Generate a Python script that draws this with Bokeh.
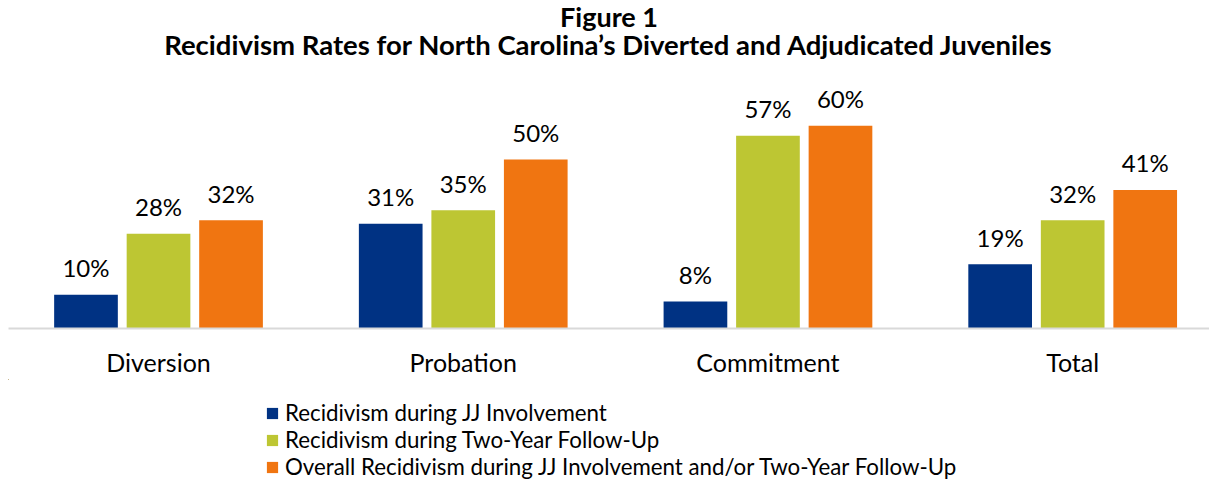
from bokeh.plotting import figure
from bokeh.layouts import column
from bokeh.models import Range1d, Legend, LegendItem, Title, ColumnDataSource, FixedTicker
from bokeh.core.properties import value
from bokeh.embed import file_html
from bokeh.resources import INLINE

categories = ["Diversion", "Probation", "Commitment", "Total"]
during_jj = [10, 31, 8, 19]
two_year = [28, 35, 57, 32]
overall = [32, 50, 60, 41]
series_names = [
    "Recidivism during JJ Involvement",
    "Recidivism during Two-Year Follow-Up",
    "Overall Recidivism during JJ Involvement and/or Two-Year Follow-Up",
]
colors = ["#003283", "#BDC633", "#F07511"]

FONT = "Lato"

xc = [i + 0.5 for i in range(len(categories))]
off = 0.238
w = 0.209
series = [during_jj, two_year, overall]

FRAME_H = 273
p = figure(frame_width=1201, frame_height=FRAME_H,
           x_range=Range1d(0.0077, 3.949),
           y_range=Range1d(0, FRAME_H / 3.38), output_backend="svg", toolbar_location=None,
           y_axis_location=None, min_border_left=8, min_border_right=0,
           min_border_top=0, min_border_bottom=46)
p.outline_line_color = None
p.xgrid.grid_line_color = None
p.ygrid.grid_line_color = None

p.add_layout(Title(text="Recidivism Rates for North Carolina\u2019s Diverted and Adjudicated Juveniles",
                   align="center", text_font=FONT, text_font_size="27.5px", text_font_style="bold",
                   text_color="#000000", standoff=-10, text_line_height=0.9), "above")
p.add_layout(Title(text="Figure 1", align="center", text_font=FONT, text_font_size="27px",
                   text_font_style="bold", text_color="#000000", standoff=-5, text_line_height=0.9), "above")

for i, (vals, color) in enumerate(zip(series, colors)):
    d = (i - 1) * off
    src = ColumnDataSource(dict(x=[c + d for c in xc], top=vals, lab=[f"{v}%" for v in vals]))
    p.vbar(x="x", top="top", width=w, source=src, fill_color=color, line_color=None)
    p.text(x="x", y="top", text="lab", source=src,
           text_align="center", text_baseline="alphabetic", y_offset=-27,
           text_font=value(FONT), text_font_size="24px", text_color="#000000")

p.xaxis.ticker = FixedTicker(ticks=xc)
p.xaxis.major_label_overrides = {c: lab for c, lab in zip(xc, categories)}
p.xaxis.axis_line_color = "#d9d9d9"
p.xaxis.axis_line_width = 2
p.xaxis.major_tick_line_color = None
p.xaxis.minor_tick_line_color = None
p.xaxis.major_label_standoff = 12
p.xaxis.major_label_text_font = FONT
p.xaxis.major_label_text_font_size = "25px"
p.xaxis.major_label_text_color = "#000000"

# legend figure (its bars lie far outside the visible ranges; only the legend shows)
lg = figure(width=1209, height=103, x_range=Range1d(100, 101), y_range=Range1d(-20, -10),
            output_backend="svg", toolbar_location=None, x_axis_location=None,
            y_axis_location=None, min_border=0)
lg.outline_line_color = None
lg.xgrid.grid_line_color = None
lg.ygrid.grid_line_color = None
items = []
for i, (vals, name, color) in enumerate(zip(series, series_names, colors)):
    r = lg.vbar(x=[c + (i - 1) * off for c in xc], top=vals, width=w,
                fill_color=color, line_color=None)
    items.append(LegendItem(label=name, renderers=[r]))
legend = Legend(items=items, location=(257, 2), orientation="vertical",
                label_text_font=FONT, label_text_font_size="22.3px", label_text_color="#000000",
                glyph_width=14, glyph_height=14, label_standoff=6, spacing=0,
                label_height=22, padding=0, margin=0, border_line_color=None,
                background_fill_alpha=0)
lg.add_layout(legend, "center")

layout = column(p, lg, spacing=0)
open("out.html", "w").write(file_html(layout, INLINE))
